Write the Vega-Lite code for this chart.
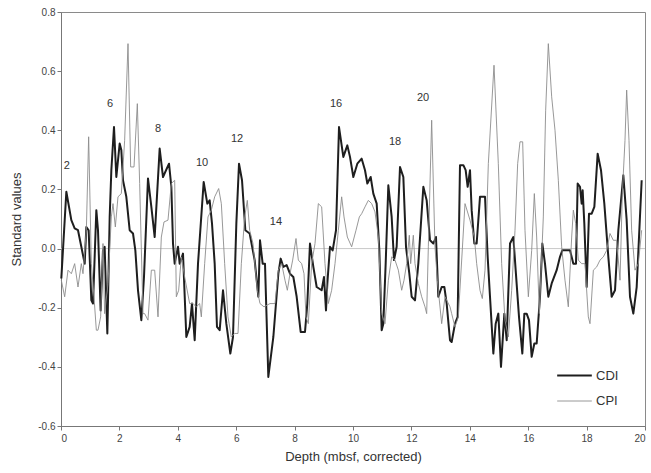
{
  "$schema": "https://vega.github.io/schema/vega-lite/v6.json",
  "width": 584,
  "height": 414,
  "autosize": "none",
  "padding": {"left": 61, "top": 12, "right": 6, "bottom": 47},
  "background": "white",
  "config": {
    "view": {"stroke": "#8a8a8a", "strokeWidth": 1},
    "font": "Liberation Sans",
    "axis": {"grid": false, "domainColor": "#777", "tickColor": "#777", "labelColor": "#444", "titleColor": "#333", "labelFontSize": 10, "titleFontSize": 13, "titleFontWeight": "normal", "tickSize": 4}
  },
  "datasets": {
    "series": [
      {"d":0.011,"v":-0.101,"s":"CDI"},{"d":0.183,"v":0.192,"s":"CDI"},{"d":0.354,"v":0.096,"s":"CDI"},{"d":0.468,"v":0.068,"s":"CDI"},{"d":0.582,"v":0.062,"s":"CDI"},{"d":0.696,"v":0.006,"s":"CDI"},{"d":0.811,"v":-0.051,"s":"CDI"},{"d":0.868,"v":0.073,"s":"CDI"},{"d":0.947,"v":0.062,"s":"CDI"},{"d":1.039,"v":-0.175,"s":"CDI"},{"d":1.096,"v":-0.186,"s":"CDI"},{"d":1.21,"v":0.130,"s":"CDI"},{"d":1.267,"v":0.062,"s":"CDI"},{"d":1.358,"v":-0.209,"s":"CDI"},{"d":1.438,"v":-0.006,"s":"CDI"},{"d":1.495,"v":0.006,"s":"CDI"},{"d":1.587,"v":-0.287,"s":"CDI"},{"d":1.667,"v":0.107,"s":"CDI"},{"d":1.724,"v":0.265,"s":"CDI"},{"d":1.815,"v":0.411,"s":"CDI"},{"d":1.895,"v":0.242,"s":"CDI"},{"d":2.009,"v":0.355,"s":"CDI"},{"d":2.066,"v":0.333,"s":"CDI"},{"d":2.123,"v":0.231,"s":"CDI"},{"d":2.237,"v":0.175,"s":"CDI"},{"d":2.352,"v":0.062,"s":"CDI"},{"d":2.466,"v":0.051,"s":"CDI"},{"d":2.546,"v":-0.006,"s":"CDI"},{"d":2.637,"v":-0.141,"s":"CDI"},{"d":2.751,"v":-0.242,"s":"CDI"},{"d":2.842,"v":-0.096,"s":"CDI"},{"d":2.979,"v":0.237,"s":"CDI"},{"d":3.094,"v":0.141,"s":"CDI"},{"d":3.208,"v":0.039,"s":"CDI"},{"d":3.379,"v":0.338,"s":"CDI"},{"d":3.493,"v":0.242,"s":"CDI"},{"d":3.699,"v":0.287,"s":"CDI"},{"d":3.779,"v":0.209,"s":"CDI"},{"d":3.836,"v":0.017,"s":"CDI"},{"d":3.893,"v":-0.051,"s":"CDI"},{"d":4.007,"v":0.006,"s":"CDI"},{"d":4.064,"v":-0.051,"s":"CDI"},{"d":4.178,"v":-0.017,"s":"CDI"},{"d":4.292,"v":-0.299,"s":"CDI"},{"d":4.406,"v":-0.265,"s":"CDI"},{"d":4.486,"v":-0.186,"s":"CDI"},{"d":4.578,"v":-0.310,"s":"CDI"},{"d":4.692,"v":-0.051,"s":"CDI"},{"d":4.886,"v":0.225,"s":"CDI"},{"d":5.011,"v":0.152,"s":"CDI"},{"d":5.091,"v":0.163,"s":"CDI"},{"d":5.171,"v":0.085,"s":"CDI"},{"d":5.263,"v":-0.051,"s":"CDI"},{"d":5.342,"v":-0.265,"s":"CDI"},{"d":5.434,"v":-0.276,"s":"CDI"},{"d":5.548,"v":-0.141,"s":"CDI"},{"d":5.662,"v":-0.254,"s":"CDI"},{"d":5.799,"v":-0.355,"s":"CDI"},{"d":5.890,"v":-0.299,"s":"CDI"},{"d":6.005,"v":0.085,"s":"CDI"},{"d":6.096,"v":0.287,"s":"CDI"},{"d":6.199,"v":0.231,"s":"CDI"},{"d":6.313,"v":0.062,"s":"CDI"},{"d":6.461,"v":0.051,"s":"CDI"},{"d":6.632,"v":-0.039,"s":"CDI"},{"d":6.758,"v":-0.163,"s":"CDI"},{"d":6.815,"v":0.028,"s":"CDI"},{"d":6.906,"v":-0.051,"s":"CDI"},{"d":6.986,"v":-0.051,"s":"CDI"},{"d":7.100,"v":-0.434,"s":"CDI"},{"d":7.272,"v":-0.299,"s":"CDI"},{"d":7.443,"v":-0.085,"s":"CDI"},{"d":7.523,"v":-0.034,"s":"CDI"},{"d":7.614,"v":-0.062,"s":"CDI"},{"d":7.728,"v":-0.056,"s":"CDI"},{"d":7.842,"v":-0.085,"s":"CDI"},{"d":7.957,"v":-0.096,"s":"CDI"},{"d":8.071,"v":-0.163,"s":"CDI"},{"d":8.208,"v":-0.282,"s":"CDI"},{"d":8.356,"v":-0.282,"s":"CDI"},{"d":8.436,"v":-0.186,"s":"CDI"},{"d":8.527,"v":0.017,"s":"CDI"},{"d":8.642,"v":-0.062,"s":"CDI"},{"d":8.756,"v":-0.130,"s":"CDI"},{"d":8.927,"v":-0.141,"s":"CDI"},{"d":9.007,"v":-0.096,"s":"CDI"},{"d":9.075,"v":-0.209,"s":"CDI"},{"d":9.121,"v":-0.118,"s":"CDI"},{"d":9.212,"v":0.006,"s":"CDI"},{"d":9.304,"v":-0.006,"s":"CDI"},{"d":9.418,"v":0.062,"s":"CDI"},{"d":9.521,"v":0.411,"s":"CDI"},{"d":9.669,"v":0.310,"s":"CDI"},{"d":9.806,"v":0.349,"s":"CDI"},{"d":9.897,"v":0.310,"s":"CDI"},{"d":10.011,"v":0.242,"s":"CDI"},{"d":10.148,"v":0.287,"s":"CDI"},{"d":10.297,"v":0.304,"s":"CDI"},{"d":10.411,"v":0.265,"s":"CDI"},{"d":10.491,"v":0.220,"s":"CDI"},{"d":10.605,"v":0.242,"s":"CDI"},{"d":10.696,"v":0.186,"s":"CDI"},{"d":10.811,"v":0.152,"s":"CDI"},{"d":10.902,"v":-0.006,"s":"CDI"},{"d":10.982,"v":-0.276,"s":"CDI"},{"d":11.039,"v":-0.254,"s":"CDI"},{"d":11.119,"v":-0.051,"s":"CDI"},{"d":11.21,"v":0.214,"s":"CDI"},{"d":11.324,"v":0.107,"s":"CDI"},{"d":11.404,"v":-0.039,"s":"CDI"},{"d":11.495,"v":0.006,"s":"CDI"},{"d":11.610,"v":0.276,"s":"CDI"},{"d":11.724,"v":0.242,"s":"CDI"},{"d":11.815,"v":0.006,"s":"CDI"},{"d":11.929,"v":-0.085,"s":"CDI"},{"d":12.009,"v":-0.163,"s":"CDI"},{"d":12.123,"v":-0.175,"s":"CDI"},{"d":12.237,"v":-0.051,"s":"CDI"},{"d":12.409,"v":0.209,"s":"CDI"},{"d":12.523,"v":0.163,"s":"CDI"},{"d":12.637,"v":0.028,"s":"CDI"},{"d":12.751,"v":0.017,"s":"CDI"},{"d":12.842,"v":0.039,"s":"CDI"},{"d":12.922,"v":-0.163,"s":"CDI"},{"d":13.037,"v":-0.130,"s":"CDI"},{"d":13.128,"v":-0.130,"s":"CDI"},{"d":13.208,"v":-0.186,"s":"CDI"},{"d":13.322,"v":-0.310,"s":"CDI"},{"d":13.379,"v":-0.316,"s":"CDI"},{"d":13.493,"v":-0.254,"s":"CDI"},{"d":13.584,"v":-0.231,"s":"CDI"},{"d":13.664,"v":0.282,"s":"CDI"},{"d":13.779,"v":0.282,"s":"CDI"},{"d":13.858,"v":0.265,"s":"CDI"},{"d":13.927,"v":0.209,"s":"CDI"},{"d":14.007,"v":0.265,"s":"CDI"},{"d":14.064,"v":0.130,"s":"CDI"},{"d":14.155,"v":0.017,"s":"CDI"},{"d":14.235,"v":0.017,"s":"CDI"},{"d":14.349,"v":0.175,"s":"CDI"},{"d":14.521,"v":0.175,"s":"CDI"},{"d":14.612,"v":-0.028,"s":"CDI"},{"d":14.692,"v":-0.163,"s":"CDI"},{"d":14.806,"v":-0.355,"s":"CDI"},{"d":14.886,"v":-0.254,"s":"CDI"},{"d":14.977,"v":-0.220,"s":"CDI"},{"d":15.068,"v":-0.400,"s":"CDI"},{"d":15.183,"v":-0.220,"s":"CDI"},{"d":15.263,"v":-0.310,"s":"CDI"},{"d":15.377,"v":0.017,"s":"CDI"},{"d":15.491,"v":0.039,"s":"CDI"},{"d":15.571,"v":-0.073,"s":"CDI"},{"d":15.685,"v":-0.231,"s":"CDI"},{"d":15.799,"v":-0.355,"s":"CDI"},{"d":15.868,"v":-0.220,"s":"CDI"},{"d":15.947,"v":-0.220,"s":"CDI"},{"d":16.027,"v":-0.242,"s":"CDI"},{"d":16.119,"v":-0.366,"s":"CDI"},{"d":16.210,"v":-0.321,"s":"CDI"},{"d":16.290,"v":-0.321,"s":"CDI"},{"d":16.404,"v":-0.163,"s":"CDI"},{"d":16.484,"v":0.017,"s":"CDI"},{"d":16.575,"v":-0.051,"s":"CDI"},{"d":16.689,"v":-0.163,"s":"CDI"},{"d":16.804,"v":-0.118,"s":"CDI"},{"d":16.975,"v":-0.073,"s":"CDI"},{"d":17.089,"v":-0.028,"s":"CDI"},{"d":17.169,"v":-0.006,"s":"CDI"},{"d":17.317,"v":-0.006,"s":"CDI"},{"d":17.432,"v":-0.006,"s":"CDI"},{"d":17.546,"v":-0.051,"s":"CDI"},{"d":17.637,"v":-0.051,"s":"CDI"},{"d":17.694,"v":0.220,"s":"CDI"},{"d":17.774,"v":0.209,"s":"CDI"},{"d":17.831,"v":0.152,"s":"CDI"},{"d":17.865,"v":0.197,"s":"CDI"},{"d":17.922,"v":0.085,"s":"CDI"},{"d":18.002,"v":-0.130,"s":"CDI"},{"d":18.082,"v":0.118,"s":"CDI"},{"d":18.174,"v":0.118,"s":"CDI"},{"d":18.265,"v":0.141,"s":"CDI"},{"d":18.379,"v":0.321,"s":"CDI"},{"d":18.493,"v":0.265,"s":"CDI"},{"d":18.607,"v":0.152,"s":"CDI"},{"d":18.744,"v":-0.028,"s":"CDI"},{"d":18.858,"v":-0.163,"s":"CDI"},{"d":18.973,"v":-0.141,"s":"CDI"},{"d":19.087,"v":0.062,"s":"CDI"},{"d":19.258,"v":0.248,"s":"CDI"},{"d":19.372,"v":0.096,"s":"CDI"},{"d":19.486,"v":-0.163,"s":"CDI"},{"d":19.600,"v":-0.220,"s":"CDI"},{"d":19.715,"v":-0.130,"s":"CDI"},{"d":19.886,"v":0.231,"s":"CDI"},
      {"d":0.011,"v":-0.107,"s":"CPI"},{"d":0.126,"v":-0.163,"s":"CPI"},{"d":0.240,"v":-0.073,"s":"CPI"},{"d":0.354,"v":-0.085,"s":"CPI"},{"d":0.468,"v":-0.051,"s":"CPI"},{"d":0.582,"v":-0.130,"s":"CPI"},{"d":0.696,"v":-0.051,"s":"CPI"},{"d":0.753,"v":-0.085,"s":"CPI"},{"d":0.868,"v":0.062,"s":"CPI"},{"d":0.947,"v":0.378,"s":"CPI"},{"d":1.039,"v":-0.051,"s":"CPI"},{"d":1.130,"v":-0.163,"s":"CPI"},{"d":1.210,"v":-0.276,"s":"CPI"},{"d":1.267,"v":-0.276,"s":"CPI"},{"d":1.358,"v":-0.231,"s":"CPI"},{"d":1.438,"v":0.017,"s":"CPI"},{"d":1.495,"v":-0.220,"s":"CPI"},{"d":1.610,"v":-0.118,"s":"CPI"},{"d":1.724,"v":0.107,"s":"CPI"},{"d":1.781,"v":0.152,"s":"CPI"},{"d":1.861,"v":0.073,"s":"CPI"},{"d":1.952,"v":0.175,"s":"CPI"},{"d":2.066,"v":0.186,"s":"CPI"},{"d":2.180,"v":0.366,"s":"CPI"},{"d":2.295,"v":0.693,"s":"CPI"},{"d":2.386,"v":0.276,"s":"CPI"},{"d":2.500,"v":0.276,"s":"CPI"},{"d":2.614,"v":0.490,"s":"CPI"},{"d":2.694,"v":0.220,"s":"CPI"},{"d":2.808,"v":-0.220,"s":"CPI"},{"d":2.865,"v":-0.220,"s":"CPI"},{"d":2.979,"v":-0.242,"s":"CPI"},{"d":3.094,"v":-0.073,"s":"CPI"},{"d":3.208,"v":-0.073,"s":"CPI"},{"d":3.322,"v":-0.231,"s":"CPI"},{"d":3.436,"v":0.039,"s":"CPI"},{"d":3.527,"v":0.090,"s":"CPI"},{"d":3.664,"v":0.096,"s":"CPI"},{"d":3.779,"v":0.220,"s":"CPI"},{"d":3.893,"v":0.231,"s":"CPI"},{"d":3.950,"v":-0.163,"s":"CPI"},{"d":4.030,"v":-0.141,"s":"CPI"},{"d":4.121,"v":-0.028,"s":"CPI"},{"d":4.235,"v":-0.096,"s":"CPI"},{"d":4.406,"v":-0.186,"s":"CPI"},{"d":4.521,"v":-0.186,"s":"CPI"},{"d":4.635,"v":-0.197,"s":"CPI"},{"d":4.749,"v":-0.186,"s":"CPI"},{"d":4.806,"v":-0.231,"s":"CPI"},{"d":4.920,"v":-0.051,"s":"CPI"},{"d":5.034,"v":0.107,"s":"CPI"},{"d":5.148,"v":0.130,"s":"CPI"},{"d":5.263,"v":0.175,"s":"CPI"},{"d":5.400,"v":0.203,"s":"CPI"},{"d":5.491,"v":0.152,"s":"CPI"},{"d":5.605,"v":-0.051,"s":"CPI"},{"d":5.719,"v":-0.231,"s":"CPI"},{"d":5.833,"v":-0.299,"s":"CPI"},{"d":5.947,"v":-0.287,"s":"CPI"},{"d":6.062,"v":-0.287,"s":"CPI"},{"d":6.176,"v":-0.051,"s":"CPI"},{"d":6.290,"v":0.107,"s":"CPI"},{"d":6.381,"v":0.163,"s":"CPI"},{"d":6.461,"v":0.062,"s":"CPI"},{"d":6.575,"v":0.017,"s":"CPI"},{"d":6.724,"v":-0.141,"s":"CPI"},{"d":6.815,"v":-0.186,"s":"CPI"},{"d":6.952,"v":-0.197,"s":"CPI"},{"d":7.158,"v":-0.186,"s":"CPI"},{"d":7.329,"v":-0.186,"s":"CPI"},{"d":7.443,"v":-0.073,"s":"CPI"},{"d":7.557,"v":-0.051,"s":"CPI"},{"d":7.671,"v":-0.107,"s":"CPI"},{"d":7.751,"v":-0.141,"s":"CPI"},{"d":7.842,"v":-0.085,"s":"CPI"},{"d":7.934,"v":-0.039,"s":"CPI"},{"d":8.048,"v":0.034,"s":"CPI"},{"d":8.128,"v":-0.039,"s":"CPI"},{"d":8.242,"v":-0.051,"s":"CPI"},{"d":8.322,"v":-0.085,"s":"CPI"},{"d":8.390,"v":-0.231,"s":"CPI"},{"d":8.470,"v":-0.254,"s":"CPI"},{"d":8.584,"v":-0.051,"s":"CPI"},{"d":8.699,"v":0.017,"s":"CPI"},{"d":8.813,"v":0.152,"s":"CPI"},{"d":8.927,"v":0.141,"s":"CPI"},{"d":9.041,"v":-0.051,"s":"CPI"},{"d":9.155,"v":-0.186,"s":"CPI"},{"d":9.269,"v":-0.141,"s":"CPI"},{"d":9.384,"v":-0.051,"s":"CPI"},{"d":9.498,"v":0.062,"s":"CPI"},{"d":9.612,"v":0.175,"s":"CPI"},{"d":9.692,"v":0.107,"s":"CPI"},{"d":9.806,"v":0.039,"s":"CPI"},{"d":9.954,"v":0.006,"s":"CPI"},{"d":10.103,"v":0.062,"s":"CPI"},{"d":10.217,"v":0.107,"s":"CPI"},{"d":10.297,"v":0.118,"s":"CPI"},{"d":10.411,"v":0.141,"s":"CPI"},{"d":10.525,"v":0.163,"s":"CPI"},{"d":10.639,"v":0.152,"s":"CPI"},{"d":10.753,"v":0.124,"s":"CPI"},{"d":10.868,"v":0.039,"s":"CPI"},{"d":10.982,"v":-0.220,"s":"CPI"},{"d":11.096,"v":-0.254,"s":"CPI"},{"d":11.21,"v":-0.107,"s":"CPI"},{"d":11.324,"v":-0.028,"s":"CPI"},{"d":11.438,"v":-0.039,"s":"CPI"},{"d":11.553,"v":-0.073,"s":"CPI"},{"d":11.667,"v":-0.141,"s":"CPI"},{"d":11.747,"v":-0.107,"s":"CPI"},{"d":11.838,"v":-0.051,"s":"CPI"},{"d":11.929,"v":0.045,"s":"CPI"},{"d":11.975,"v":-0.051,"s":"CPI"},{"d":12.066,"v":0.045,"s":"CPI"},{"d":12.123,"v":-0.051,"s":"CPI"},{"d":12.237,"v":-0.118,"s":"CPI"},{"d":12.352,"v":-0.163,"s":"CPI"},{"d":12.466,"v":-0.197,"s":"CPI"},{"d":12.523,"v":-0.220,"s":"CPI"},{"d":12.580,"v":0.006,"s":"CPI"},{"d":12.694,"v":0.434,"s":"CPI"},{"d":12.808,"v":0.006,"s":"CPI"},{"d":12.888,"v":-0.107,"s":"CPI"},{"d":13.037,"v":-0.254,"s":"CPI"},{"d":13.151,"v":-0.163,"s":"CPI"},{"d":13.322,"v":-0.197,"s":"CPI"},{"d":13.379,"v":-0.220,"s":"CPI"},{"d":13.493,"v":-0.265,"s":"CPI"},{"d":13.607,"v":-0.231,"s":"CPI"},{"d":13.836,"v":0.152,"s":"CPI"},{"d":14.007,"v":0.096,"s":"CPI"},{"d":14.155,"v":0.039,"s":"CPI"},{"d":14.235,"v":-0.051,"s":"CPI"},{"d":14.349,"v":-0.141,"s":"CPI"},{"d":14.429,"v":-0.169,"s":"CPI"},{"d":14.521,"v":-0.073,"s":"CPI"},{"d":14.635,"v":0.287,"s":"CPI"},{"d":14.829,"v":0.620,"s":"CPI"},{"d":14.977,"v":0.287,"s":"CPI"},{"d":15.091,"v":-0.051,"s":"CPI"},{"d":15.205,"v":-0.242,"s":"CPI"},{"d":15.320,"v":-0.299,"s":"CPI"},{"d":15.434,"v":-0.141,"s":"CPI"},{"d":15.548,"v":0.062,"s":"CPI"},{"d":15.639,"v":0.287,"s":"CPI"},{"d":15.719,"v":0.361,"s":"CPI"},{"d":15.811,"v":0.361,"s":"CPI"},{"d":15.890,"v":0.062,"s":"CPI"},{"d":16.005,"v":-0.163,"s":"CPI"},{"d":16.119,"v":-0.006,"s":"CPI"},{"d":16.210,"v":0.186,"s":"CPI"},{"d":16.290,"v":0.039,"s":"CPI"},{"d":16.381,"v":-0.220,"s":"CPI"},{"d":16.518,"v":0.107,"s":"CPI"},{"d":16.598,"v":0.468,"s":"CPI"},{"d":16.689,"v":0.693,"s":"CPI"},{"d":16.804,"v":0.513,"s":"CPI"},{"d":16.918,"v":0.400,"s":"CPI"},{"d":17.032,"v":0.231,"s":"CPI"},{"d":17.146,"v":0.006,"s":"CPI"},{"d":17.260,"v":-0.107,"s":"CPI"},{"d":17.374,"v":-0.197,"s":"CPI"},{"d":17.489,"v":0.039,"s":"CPI"},{"d":17.546,"v":0.130,"s":"CPI"},{"d":17.626,"v":0.085,"s":"CPI"},{"d":17.717,"v":-0.039,"s":"CPI"},{"d":17.831,"v":-0.051,"s":"CPI"},{"d":17.945,"v":-0.051,"s":"CPI"},{"d":18.059,"v":-0.231,"s":"CPI"},{"d":18.116,"v":-0.254,"s":"CPI"},{"d":18.231,"v":-0.073,"s":"CPI"},{"d":18.345,"v":-0.062,"s":"CPI"},{"d":18.459,"v":-0.039,"s":"CPI"},{"d":18.573,"v":-0.028,"s":"CPI"},{"d":18.687,"v":-0.006,"s":"CPI"},{"d":18.801,"v":0.051,"s":"CPI"},{"d":18.916,"v":0.028,"s":"CPI"},{"d":19.030,"v":0.028,"s":"CPI"},{"d":19.144,"v":-0.107,"s":"CPI"},{"d":19.224,"v":0.186,"s":"CPI"},{"d":19.315,"v":0.366,"s":"CPI"},{"d":19.372,"v":0.536,"s":"CPI"},{"d":19.452,"v":0.366,"s":"CPI"},{"d":19.543,"v":0.062,"s":"CPI"},{"d":19.658,"v":-0.073,"s":"CPI"},{"d":19.772,"v":-0.051,"s":"CPI"},{"d":19.886,"v":0.062,"s":"CPI"}
    ],
    "labels": [
      {"d":0.2,"v":0.28,"t":"2"},{"d":1.68,"v":0.49,"t":"6"},{"d":3.32,"v":0.405,"t":"8"},{"d":4.83,"v":0.29,"t":"10"},{"d":6.03,"v":0.37,"t":"12"},{"d":7.36,"v":0.09,"t":"14"},{"d":9.42,"v":0.49,"t":"16"},{"d":11.44,"v":0.36,"t":"18"},{"d":12.4,"v":0.51,"t":"20"}
    ],
    "zero": [{"v":0}]
  },
  "layer": [
    {
      "data": {"name": "zero"},
      "mark": {"type": "rule", "color": "#bbbbbb", "strokeWidth": 0.8},
      "encoding": {"y": {"field": "v", "type": "quantitative"}}
    },
    {
      "data": {"name": "series"},
      "mark": {"type": "line", "strokeJoin": "round"},
      "encoding": {
        "x": {"field": "d", "type": "quantitative", "scale": {"domain": [0, 20], "nice": false, "zero": false},
              "axis": {"values": [0,2,4,6,8,10,12,14,16,18,20], "title": "Depth (mbsf, corrected)", "titlePadding": 7, "labelPadding": 3}},
        "y": {"field": "v", "type": "quantitative", "scale": {"domain": [-0.6, 0.8], "nice": false, "zero": false},
              "axis": {"values": [-0.6,-0.4,-0.2,0,0.2,0.4,0.6,0.8], "labelExpr": "replace(format(datum.value, '.1f'), '\u2212', '-')", "title": "Standard values", "titlePadding": 14}},
        "color": {"field": "s", "type": "nominal", "scale": {"domain": ["CDI", "CPI"], "range": ["#1e1e1e", "#8c8c8c"]},
                  "legend": {"title": null, "orient": "none", "legendX": 495, "legendY": 345, "symbolType": "stroke", "symbolSize": 1200, "labelFontSize": 13, "labelColor": "#333", "labelOffset": 3, "rowPadding": -15}},
        "strokeWidth": {"field": "s", "type": "nominal", "scale": {"domain": ["CDI", "CPI"], "range": [2, 0.9]},
                  "legend": {"title": null, "orient": "none", "legendX": 495, "legendY": 345, "symbolType": "stroke", "symbolSize": 1200, "labelFontSize": 13, "labelColor": "#333", "labelOffset": 3, "rowPadding": -15}},
        "order": {"field": "d", "type": "quantitative"}
      }
    },
    {
      "data": {"name": "labels"},
      "mark": {"type": "text", "fontSize": 11, "color": "#333", "baseline": "middle", "align": "center"},
      "encoding": {
        "x": {"field": "d", "type": "quantitative"},
        "y": {"field": "v", "type": "quantitative"},
        "text": {"field": "t"}
      }
    }
  ]
}
